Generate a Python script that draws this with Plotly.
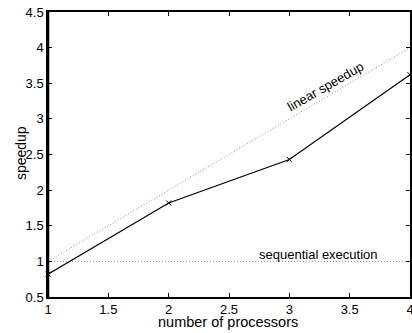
import plotly.graph_objects as go

processors = [1, 2, 3, 4]
speedup = [0.82, 1.82, 2.43, 3.62]
linear_x = [1, 4]
linear_y = [1, 4]
seq_x = [1, 4]
seq_y = [1, 1]
x_ticks = [1, 1.5, 2, 2.5, 3, 3.5, 4]
y_ticks = [0.5, 1, 1.5, 2, 2.5, 3, 3.5, 4, 4.5]

FONT = "Liberation Sans, Arial, Helvetica"

fig = go.Figure()
fig.add_trace(go.Scatter(x=linear_x, y=linear_y, mode="lines",
                         line=dict(color="#8c8c8c", width=1, dash="1px,2px"), showlegend=False))
fig.add_trace(go.Scatter(x=seq_x, y=seq_y, mode="lines",
                         line=dict(color="#8c8c8c", width=1, dash="1px,2px"), showlegend=False))
fig.add_trace(go.Scatter(x=processors, y=speedup, mode="lines+markers",
                         line=dict(color="black", width=1.2),
                         marker=dict(symbol="x-thin", size=5, color="black",
                                     line=dict(color="black", width=1)),
                         showlegend=False, cliponaxis=False))

fig.add_annotation(x=3.30, y=3.45, text="linear speedup", showarrow=False,
                   textangle=-30, font=dict(family=FONT, size=13, color="black"))
fig.add_annotation(x=3.24, y=1.1, text="sequential execution", showarrow=False,
                   font=dict(family=FONT, size=13, color="black"))
fig.add_annotation(xref="paper", yref="paper", x=0, y=0.505, xshift=-27,
                   xanchor="center", yanchor="middle",
                   text="speedup", textangle=-90, showarrow=False,
                   font=dict(family=FONT, size=14, color="black"))
fig.add_annotation(xref="paper", yref="paper", x=0.497, y=0, yshift=-25,
                   xanchor="center", yanchor="middle",
                   text="number of processors", showarrow=False,
                   font=dict(family=FONT, size=14.5, color="black"))

# thick left spine
fig.add_shape(type="line", xref="paper", yref="paper", x0=0, x1=0, y0=0, y1=1,
              line=dict(color="black", width=2.5))

axis_common = dict(showgrid=False, zeroline=False, showline=True, linecolor="black",
                   linewidth=1.5, mirror="allticks", ticks="inside", ticklen=4,
                   tickcolor="black", automargin=False, ticklabeloverflow="allow",
                   tickfont=dict(family=FONT, size=13, color="black"))

fig.update_layout(
    width=412, height=333,
    margin=dict(l=48, r=2, t=12, b=36),
    plot_bgcolor="white", paper_bgcolor="white",
    font=dict(family=FONT, size=13, color="black"),
    xaxis=dict(range=[1, 4], tickvals=x_ticks,
               ticktext=[("%g" % v) for v in x_ticks], **axis_common),
    yaxis=dict(range=[0.5, 4.5], tickvals=y_ticks,
               ticktext=[("%g" % v) for v in y_ticks], **axis_common),
)

fig.write_html("out.html", config={"displayModeBar": False},
               post_script="document.body.style.margin='0';document.body.style.padding='0';")
